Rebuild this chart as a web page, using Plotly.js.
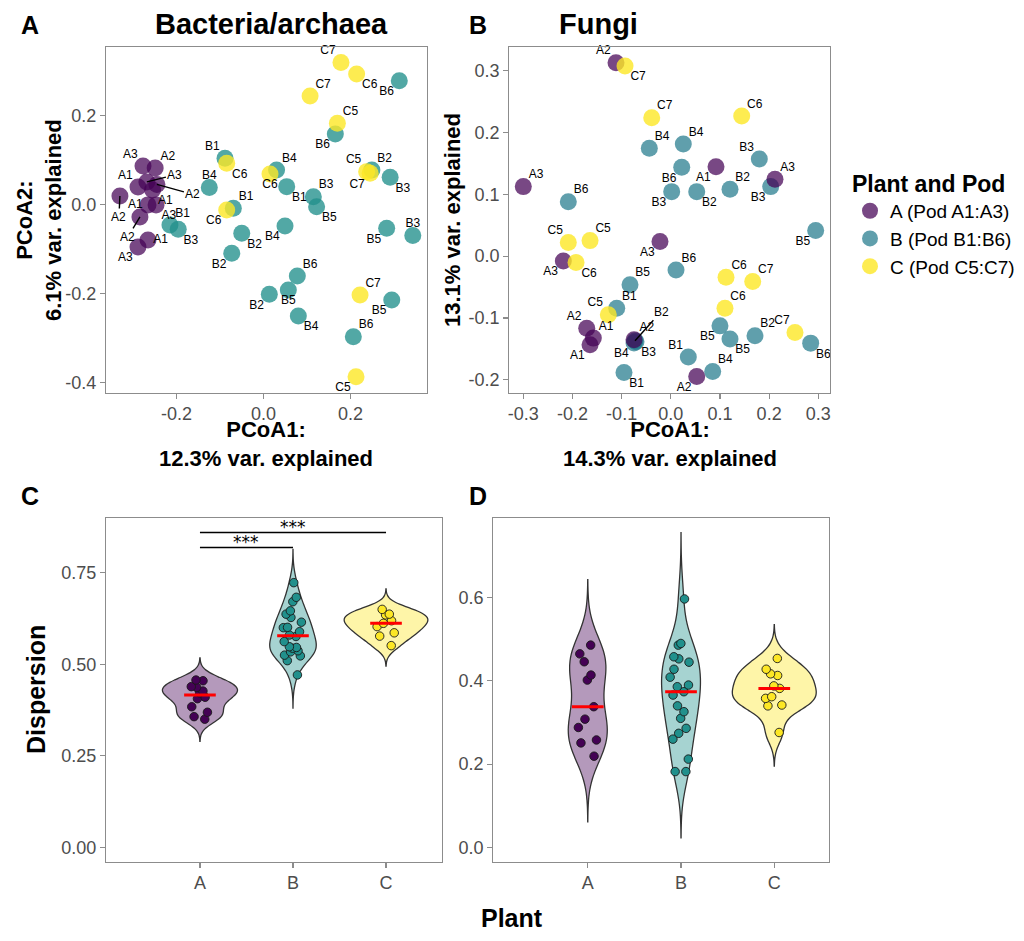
<!DOCTYPE html>
<html><head><meta charset="utf-8">
<script src="https://cdn.plot.ly/plotly-3.0.1.min.js"></script>
<style>html,body{margin:0;padding:0;background:#fff}#chart{width:1024px;height:941px}</style>
</head><body><div id="chart"></div>
<script>
// ---------- DATA: panel A (Bacteria/archaea PCoA) ----------
const bacA_x = [-0.277,-0.249,-0.268,-0.2885,-0.245,-0.330,-0.2655,-0.247,-0.284,-0.2655,-0.2885,-0.255];
const bacA_y = [0.0865,0.082,0.0506,0.039,0.045,0.019,-0.001,-0.001,-0.028,-0.0798,-0.0955,0.0326];
const bacA_lab = ['A3','A2','A3','A1','A2','A2','A1','A3','A2','A1','A3','A1'];
const bacB_x = [0.312,0.165,-0.0885,0.030,-0.1246,0.0533,0.1145,0.122,0.249,0.291,-0.0694,-0.215,-0.196,-0.050,0.0494,0.283,0.343,-0.073,0.0777,0.057,0.0133,0.080,0.2947,0.2064];
const bacB_y = [0.278,0.158,0.104,0.0775,0.0378,0.040,0.0175,-0.005,0.0775,0.061,-0.0085,-0.046,-0.0557,-0.0647,-0.0483,-0.0535,-0.070,-0.1097,-0.1607,-0.192,-0.2018,-0.2506,-0.2146,-0.297];
const bacB_lab = ['B6','B6','B1','B4','B4','B1','B3','B5','B2','B3','B1','B1','B3','B2','B4','B5','B3','B2','B6','B5','B2','B4','B5','B6'];
const bacC_x = [0.178,0.214,0.107,0.1697,-0.0846,0.0149,0.237,0.245,-0.0846,0.2218,0.2126];
const bacC_y = [0.3187,0.293,0.2438,0.1825,0.0926,0.0685,0.0737,0.070,-0.0124,-0.2034,-0.387];
const bacC_lab = ['C7','C6','C7','C5','C6','C6','C5','C7','C6','C7','C5'];

// ---------- DATA: panel B (Fungi PCoA) ----------
const funA_x = [-0.1115,-0.300,0.0919,0.2119,-0.2186,-0.022,-0.171,-0.1576,-0.1643,-0.0748,0.0527];
const funA_y = [0.3126,0.1123,0.1446,0.1242,-0.0078,0.0234,-0.1165,-0.1326,-0.1435,-0.1354,-0.1947];
const funA_lab = ['A2','A3','A1','A3','A3','A3','A2','A1','A1','A2','A2'];
const funB_x = [-0.0437,0.0254,0.180,0.0222,0.2032,0.0018,0.0527,0.1204,0.2947,-0.2085,-0.083,-0.110,-0.0748,-0.0708,-0.0728,-0.0952,0.0106,0.100,0.1204,0.1712,0.2845,0.0356,0.0852];
const funB_y = [0.1743,0.1813,0.157,0.1436,0.1123,0.1042,0.1042,0.1081,0.0412,0.088,-0.0465,-0.0842,-0.1406,-0.1386,-0.137,-0.1882,-0.0223,-0.1128,-0.1342,-0.1289,-0.1407,-0.1633,-0.1866];
const funB_lab = ['B4','B4','B3','B6','B3','B3','B2','B2','B5','B6','B5','B1','B4','B3','B2','B1','B6','B5','B5','B2','B6','B1','B4'];
const funC_x = [-0.0931,-0.0388,0.1442,-0.2085,-0.1643,-0.1928,-0.1271,0.1123,0.1666,0.1102,0.2526];
const funC_y = [0.3073,0.2237,0.2265,0.0218,0.025,-0.0105,-0.095,-0.0341,-0.0412,-0.0842,-0.1236];
const funC_lab = ['C7','C7','C6','C5','C5','C6','C5','C6','C7','C6','C7'];

// ---------- DATA: panels C / D (dispersion) ----------
const plants = ['A','B','C'];
const dispBac_A = [0.457,0.455,0.439,0.437,0.427,0.422,0.410,0.406,0.384,0.369,0.357,0.350];
const dispBac_B = [0.723,0.683,0.671,0.646,0.637,0.628,0.615,0.601,0.600,0.589,0.580,0.576,0.562,0.548,0.546,0.544,0.537,0.534,0.525,0.523,0.510,0.471];
const dispBac_C = [0.650,0.637,0.635,0.619,0.612,0.603,0.586,0.577,0.551];
const dispFun_A = [0.486,0.465,0.446,0.414,0.402,0.338,0.308,0.288,0.258,0.251,0.219];
const dispFun_B = [0.597,0.490,0.486,0.458,0.453,0.445,0.428,0.409,0.390,0.386,0.374,0.366,0.340,0.326,0.310,0.286,0.274,0.260,0.212,0.182,0.182];
const dispFun_C = [0.454,0.428,0.417,0.413,0.388,0.382,0.362,0.358,0.342,0.340,0.276];
const legendNames = ['A (Pod A1:A3)','B (Pod B1:B6)','C (Pod C5:C7)'];
const sigLabels = ['***','***'];

// ---------- label placement (style) ----------
const bacA_pos = ['top left','top right',[28,-7],'top left',[36,10],[-1,21],'middle left','bottom right',[-12,20],'middle right','bottom left','bottom right'];
const bacB_pos = ['bottom left','bottom left','top left','top right','top center','bottom right','top right','bottom right','top right','bottom right','top right','top right','bottom right','bottom right','bottom left','bottom left','top center','bottom left','top right','bottom center','bottom left','bottom right','bottom left','top right'];
const bacC_pos = ['top left','bottom right','top right','top right','bottom right','bottom center','top left','bottom left','bottom left','top right','bottom left'];
const funA_pos = ['top left','top right','bottom left','top right','bottom left','bottom left','top left','top right','bottom left','top right','bottom left'];
const funB_pos = ['top right','top right','top left','bottom left','bottom left','bottom left','bottom right','top right','bottom left','top right','top right','top right','bottom left','bottom right',[26,-29],'bottom right','top right','bottom left','bottom right','top right','bottom right','top left','top right'];
const funC_pos = ['bottom right','top right','top right','top left','top right','bottom right','top left','top right','top right','top right','top left'];

const FONT = 'Liberation Sans, Arial, Helvetica, sans-serif';
const W = 1024, H = 941;
const px = v => v / W, py = v => 1 - v / H;

const colA = {A:'rgba(68,1,84,0.72)', B:'rgba(33,144,140,0.78)', C:'rgba(253,231,37,0.8)'};
const colB = {A:'rgba(68,1,84,0.72)', B:'rgba(35,122,140,0.72)', C:'rgba(253,231,37,0.8)'};
const solid = ['#440154','#21908C','#FDE725'];
const fills = ['rgba(68,1,84,0.4)','rgba(33,144,140,0.4)','rgba(253,231,37,0.4)'];

const traces = [];
const textTraces = [];
const annotations = [];
const shapes = [];

function pcoa(xs, ys, labs, pos, color, xa, ya) {
  traces.push({type:'scatter', mode:'markers', x:xs, y:ys, xaxis:xa, yaxis:ya,
    marker:{size:17, color:color, line:{width:0}}, showlegend:false, hoverinfo:'skip'});
  const txt = labs.map((l,i) => Array.isArray(pos[i]) ? '' : l);
  const tp = pos.map(p => Array.isArray(p) ? 'top right' : p);
  textTraces.push({type:'scatter', mode:'markers+text', x:xs, y:ys, xaxis:xa, yaxis:ya,
    text:txt, textposition:tp, textfont:{family:FONT, size:12, color:'#000'},
    marker:{size:7, color:'rgba(0,0,0,0)'}, showlegend:false, hoverinfo:'skip', cliponaxis:false});
  pos.forEach((p,i) => {
    if (Array.isArray(p)) {
      annotations.push({x:xs[i], y:ys[i], xref:xa, yref:ya, text:labs[i], showarrow:true,
        arrowhead:0, arrowwidth:1.4, arrowcolor:'#000', ax:p[0], ay:p[1], standoff:0, startstandoff:0,
        font:{family:FONT, size:12, color:'#000'}});
    }
  });
}
// draw order: B, A, C
pcoa(bacB_x, bacB_y, bacB_lab, bacB_pos, colA.B, 'x', 'y');
pcoa(bacA_x, bacA_y, bacA_lab, bacA_pos, colA.A, 'x', 'y');
pcoa(bacC_x, bacC_y, bacC_lab, bacC_pos, colA.C, 'x', 'y');
pcoa(funB_x, funB_y, funB_lab, funB_pos, colB.B, 'x2', 'y2');
pcoa(funA_x, funA_y, funA_lab, funA_pos, colB.A, 'x2', 'y2');
pcoa(funC_x, funC_y, funC_lab, funC_pos, colB.C, 'x2', 'y2');
textTraces.forEach(t => traces.push(t));

// legend-only traces
[colB.A, colB.B, colB.C].forEach((c,i) => {
  traces.push({type:'scatter', mode:'markers', x:[null], y:[null], xaxis:'x2', yaxis:'y2',
    name:legendNames[i], marker:{size:17, color:c}, showlegend:true, hoverinfo:'skip'});
});

// ---------- stats helpers ----------
function sorted(a){return a.slice().sort((p,q)=>p-q);}
function quant(a,p){const s=sorted(a);const h=(s.length-1)*p;const lo=Math.floor(h);return lo+1<s.length? s[lo]+(h-lo)*(s[lo+1]-s[lo]) : s[lo];}
function sd(a){const m=a.reduce((s,v)=>s+v,0)/a.length;return Math.sqrt(a.reduce((s,v)=>s+(v-m)*(v-m),0)/(a.length-1));}
function nrd0(a){const iqr=quant(a,0.75)-quant(a,0.25);let lo=Math.min(sd(a), iqr/1.34);if(!(lo>0)) lo=sd(a);return 0.9*lo*Math.pow(a.length,-0.2);}
function kdeMax(a,bw){const lo=Math.min(...a)-3*bw, hi=Math.max(...a)+3*bw;let mx=0;
  for(let k=0;k<512;k++){const x=lo+(hi-lo)*k/511;let s=0;for(const v of a){const u=(x-v)/bw;s+=Math.exp(-0.5*u*u);}
    s/= (a.length*bw*Math.sqrt(2*Math.PI)); if(s>mx) mx=s;} return mx;}

function violinPanel(groups, xa, ya) {
  const bws = groups.map(nrd0);
  const maxes = groups.map((g,i)=>kdeMax(g,bws[i]));
  const gmax = Math.max(...maxes);
  groups.forEach((g,i) => {
    const w = 0.9*maxes[i]/gmax;
    traces.push({type:'violin', x0:i, y:g, xaxis:xa, yaxis:ya, name:plants[i],
      width:w, bandwidth:bws[i], spanmode:'manual', span:[Math.min(...g)-3*bws[i], Math.max(...g)+3*bws[i]],
      scalemode:'width', fillcolor:fills[i], line:{color:'#333333', width:1.3},
      points:'all', pointpos:0, jitter:Math.min(1, 0.26/w),
      marker:{size:8.5, color:solid[i], opacity:1, line:{color:'#1a1a1a', width:0.9}},
      box:{visible:false}, meanline:{visible:false}, showlegend:false, hoverinfo:'skip'});
  });
  groups.forEach((g,i) => {
    const m = quant(g,0.5);
    traces.push({type:'scatter', mode:'lines', x:[i-0.17, i+0.17], y:[m,m], xaxis:xa, yaxis:ya,
      line:{color:'#FF0000', width:3}, showlegend:false, hoverinfo:'skip'});
  });
}
violinPanel([dispBac_A, dispBac_B, dispBac_C], 'x3', 'y3');
violinPanel([dispFun_A, dispFun_B, dispFun_C], 'x4', 'y4');

// significance bars (panel C)
const sig = [{from:0, to:1, y:0.819}, {from:0, to:2, y:0.860}];
sig.forEach((s,i) => {
  shapes.push({type:'line', xref:'x3', yref:'y3', x0:s.from, x1:s.to, y0:s.y, y1:s.y, line:{color:'#000', width:1.5}});
  annotations.push({xref:'x3', yref:'y3', x:(s.from+s.to)/2, y:s.y, yanchor:'bottom', yshift:-6, text:sigLabels[i],
    showarrow:false, font:{family:'DejaVu Sans, sans-serif', size:17, color:'#000'}});
});

// ---------- axes ----------
function ax(extra) {
  return Object.assign({showline:true, mirror:true, linecolor:'#8c8c8c', linewidth:1.1, ticks:'outside', ticklen:5,
    tickcolor:'#8c8c8c', tickwidth:1.1, tickfont:{family:FONT, size:18, color:'#4d4d4d'}, showgrid:false,
    zeroline:false, fixedrange:true}, extra);
}
const fmt = (v,d) => v.toFixed(d);
const tA_x = [-0.2,0,0.2], tA_y = [-0.4,-0.2,0,0.2];
const tB_x = [-0.3,-0.2,-0.1,0,0.1,0.2,0.3], tB_y = [-0.2,-0.1,0,0.1,0.2,0.3];
const tC_y = [0,0.25,0.5,0.75], tD_y = [0,0.2,0.4,0.6];

const layout = {
  width:W, height:H, margin:{l:0,r:0,t:0,b:0}, paper_bgcolor:'#fff', plot_bgcolor:'#fff',
  font:{family:FONT, color:'#000'}, violinmode:'overlay',
  xaxis: ax({domain:[px(106),px(426.7)], range:[-0.362,0.375], anchor:'y', tickvals:tA_x, ticktext:tA_x.map(v=>fmt(v,1))}),
  yaxis: ax({domain:[py(392.5),py(47.3)], range:[-0.4225,0.353], anchor:'x', tickvals:tA_y, ticktext:tA_y.map(v=>fmt(v,1))}),
  xaxis2: ax({domain:[px(509.3),px(830)], range:[-0.3285,0.3238], anchor:'y2', tickvals:tB_x, ticktext:tB_x.map(v=>fmt(v,1))}),
  yaxis2: ax({domain:[py(392.5),py(47.3)], range:[-0.2205,0.3375], anchor:'x2', tickvals:tB_y, ticktext:tB_y.map(v=>fmt(v,1))}),
  xaxis3: ax({domain:[px(106),px(442.3)], range:[-1.01,2.605], anchor:'y3', tickvals:[0,1,2], ticktext:plants}),
  yaxis3: ax({domain:[py(861.7),py(517.7)], range:[-0.0393,0.9005], anchor:'x3', tickvals:tC_y, ticktext:tC_y.map(v=>fmt(v,2))}),
  xaxis4: ax({domain:[px(493.3),px(829.3)], range:[-1.013,2.59], anchor:'y4', tickvals:[0,1,2], ticktext:plants}),
  yaxis4: ax({domain:[py(861.7),py(517.7)], range:[-0.0346,0.7923], anchor:'x4', tickvals:tD_y, ticktext:tD_y.map(v=>fmt(v,1))}),
  showlegend:true,
  legend:{x:px(850), y:py(162), xanchor:'left', yanchor:'top', bgcolor:'rgba(0,0,0,0)',
    title:{text:'<b>Plant and Pod</b>', font:{family:FONT, size:23, color:'#000'}},
    font:{family:FONT, size:19, color:'#000'}, itemsizing:'trace', tracegroupgap:0},
  shapes: shapes,
  annotations: annotations
};

function paperText(text, x, y, size, extra) {
  annotations.push(Object.assign({xref:'paper', yref:'paper', x:px(x), y:py(y), text:text, showarrow:false,
    xanchor:'center', yanchor:'middle', font:{family:FONT, size:size, color:'#000'}}, extra||{}));
}
paperText('<b>A</b>', 30, 25, 25);
paperText('<b>B</b>', 478, 25, 25);
paperText('<b>C</b>', 30, 496, 25);
paperText('<b>D</b>', 478, 496, 25);
paperText('<b>Bacteria/archaea</b>', 271, 24, 29);
paperText('<b>Fungi</b>', 598, 24, 29);
paperText('<b>PCoA1:<br>12.3% var. explained</b>', 266, 444, 22);
paperText('<b>PCoA1:<br>14.3% var. explained</b>', 670, 444, 22);
paperText('<b>PCoA2:<br>6.1% var. explained</b>', 39, 220, 22, {textangle:-90});
paperText('<b>13.1% var. explained</b>', 452, 220, 22, {textangle:-90});
paperText('<b>Dispersion</b>', 36, 690, 25, {textangle:-90});
paperText('<b>Plant</b>', 512, 918, 25);

Plotly.newPlot('chart', traces, layout, {displayModeBar:false, staticPlot:true});
</script></body></html>
